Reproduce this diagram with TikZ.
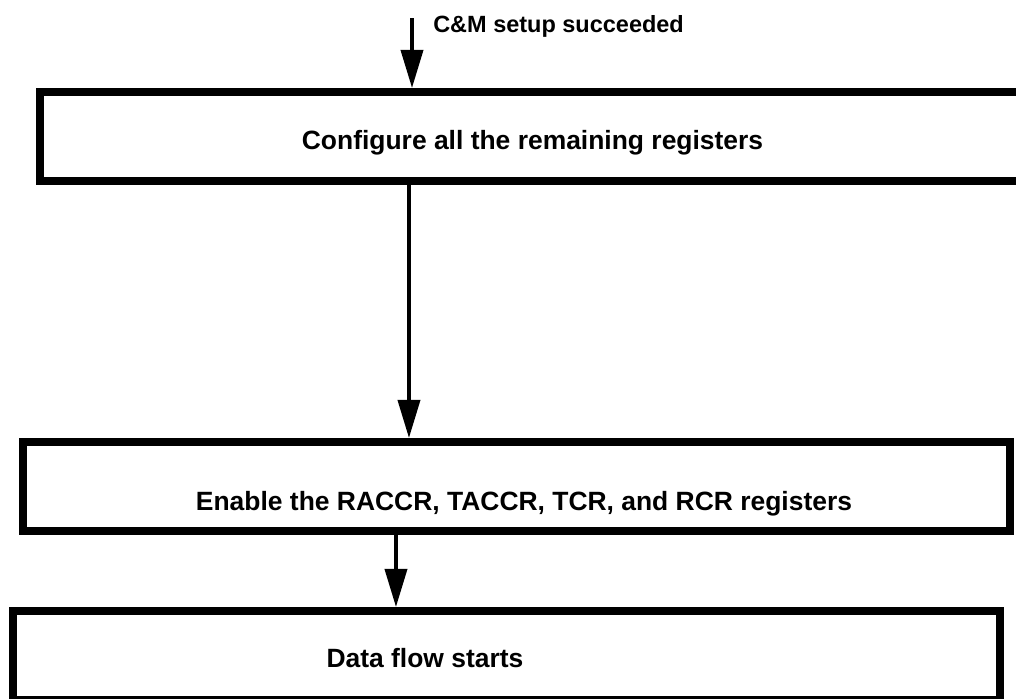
\documentclass[tikz,border=0pt]{standalone}
\usepackage{fontspec}
\setmainfont{Liberation Sans}
\usetikzlibrary{arrows.meta}
\begin{document}
\begin{tikzpicture}[x=0.025cm, y=-0.025cm,
    blocco/.style={draw, line width=0.2cm, minimum width=#1, minimum height=2.225cm, inner sep=0pt},
    testo/.style={font=\fontsize{18.8}{22}\selectfont\bfseries, anchor=base, inner sep=0pt},
    freccia/.style={line width=2.6pt, -{Triangle[length=0.95cm, width=0.55cm]}}]
    % Area del disegno
    \useasboundingbox (0,0) rectangle (1016,698);
    \clip (0,0) rectangle (1016,698);

    % Blocchi
    \node[blocco=24.75cm] (config) at (535,136.5) {};
    \node[blocco=24.65cm] (enable) at (516.5,486.5) {};
    \node[blocco=24.65cm] (flow) at (506.5,655.5) {};

    % Testi dei blocchi
    \node[testo] (configtxt) at (532.5,149) {Configure all the remaining registers};
    \node[testo] (enabletxt) at (524,510) {Enable the RACCR, TACCR, TCR, and RCR registers};
    \node[testo] (flowtxt) at (425,667) {Data flow starts};

    % Freccia d'ingresso
    \coordinate (inizio) at (412,18);
    \node[testo, anchor=base west, font=\fontsize{16.7}{20}\selectfont\bfseries] (setup) at (433,32) {C\&M setup succeeded};
    \draw[freccia] (inizio) -- (inizio |- config.north);

    % Frecce tra i blocchi
    \draw[freccia] ([xshift=-3.15cm]config.south) -- ([xshift=-3.15cm]config.south |- enable.north);
    \draw[freccia] ([xshift=-3.0125cm]enable.south) -- ([xshift=-3.0125cm]enable.south |- flow.north);
\end{tikzpicture}
\end{document}
